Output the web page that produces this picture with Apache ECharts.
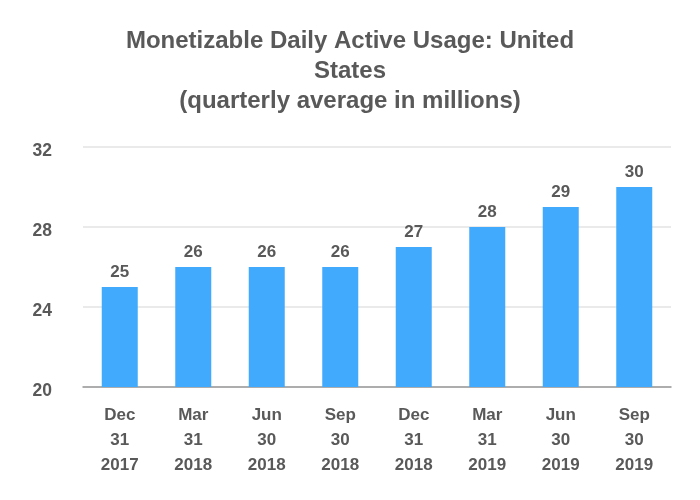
<!DOCTYPE html>
<html>
<head>
<meta charset="utf-8">
<script src="https://cdn.jsdelivr.net/npm/echarts@6/dist/echarts.min.js"></script>
<style>html,body{margin:0;padding:0;background:#fff}#c{width:700px;height:500px}</style>
</head>
<body>
<div id="c"></div>
<script>
const categories = ['Dec\n31\n2017','Mar\n31\n2018','Jun\n30\n2018','Sep\n30\n2018','Dec\n31\n2018','Mar\n31\n2019','Jun\n30\n2019','Sep\n30\n2019'];
const values = [25, 26, 26, 26, 27, 28, 29, 30];
const yTicks = {min: 20, max: 32, interval: 4};
const titleText = 'Monetizable Daily Active Usage: United\nStates\n(quarterly average in millions)';

const chart = echarts.init(document.getElementById('c'), null, {renderer: 'canvas'});
chart.setOption({
  backgroundColor: '#ffffff',
  animation: false,
  title: {
    text: titleText,
    left: 'center',
    top: 21,
    textStyle: {fontFamily: 'Liberation Sans, Arial', fontSize: 24, fontWeight: 'bold', color: '#595959', lineHeight: 30}
  },
  grid: {left: 83, right: 29, top: 147, bottom: 113, containLabel: false, outerBoundsMode: 'none'},
  xAxis: {
    type: 'category',
    data: categories,
    axisTick: {show: false},
    axisLine: {lineStyle: {color: '#999999', width: 1.5}},
    axisLabel: {fontFamily: 'Liberation Sans, Arial', fontSize: 17, fontWeight: 'bold', color: '#595959', lineHeight: 25, margin: 16, interval: 0}
  },
  yAxis: {
    type: 'value',
    min: yTicks.min, max: yTicks.max, interval: yTicks.interval,
    axisLine: {show: false},
    axisTick: {show: false},
    splitLine: {lineStyle: {color: '#e3e3e3', width: 1.5}},
    axisLabel: {fontFamily: 'Liberation Sans, Arial', fontSize: 17.5, fontWeight: 'bold', color: '#595959', margin: 31, verticalAlign: 'top', lineHeight: 9}
  },
  series: [{
    type: 'bar',
    data: values,
    barWidth: 36,
    itemStyle: {color: '#42aafd'},
    label: {show: true, position: 'top', distance: 6, fontFamily: 'Liberation Sans, Arial', fontSize: 17, fontWeight: 'bold', color: '#595959'}
  }]
});
</script>
</body>
</html>
